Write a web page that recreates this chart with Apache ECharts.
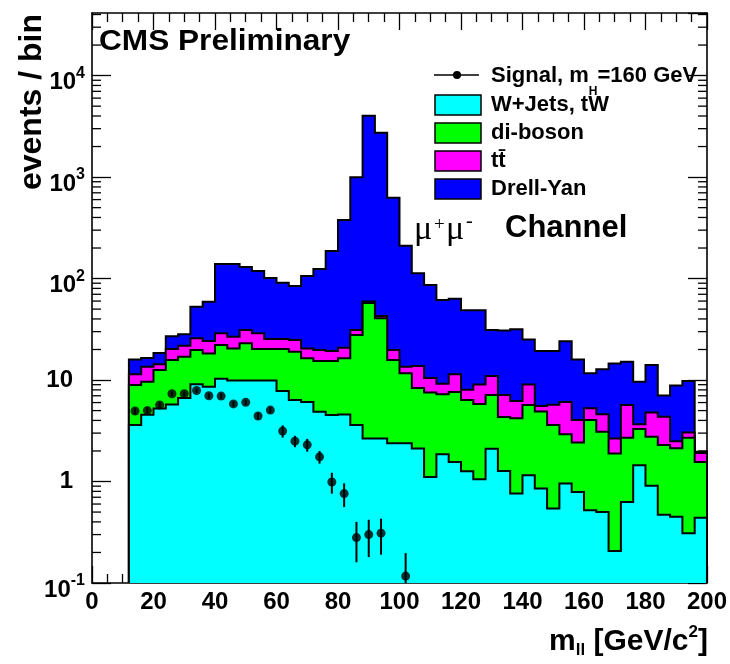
<!DOCTYPE html>
<html>
<head>
<meta charset="utf-8">
<script src="https://cdn.jsdelivr.net/npm/echarts@6.0.0/dist/echarts.min.js"></script>
<style>
html,body{margin:0;padding:0;background:#fff;}
#chart{width:730px;height:664px;}
</style>
</head>
<body>
<div id="chart"></div>
<script>
// ---------------- data ----------------
const binEdges = [12,16,20,24,28,32,36,40,44,48,52,56,60,64,68,72,76,80,84,88,92,96,100,104,108,112,116,120,124,128,132,136,140,144,148,152,156,160,164,168,172,176,180,184,188,192,196,200];

const wjets = [3.60,4.55,5.24,5.74,6.64,9.09,8.59,10.3,9.9,9.9,9.9,9.9,7.79,6.35,6.07,4.87,4.52,4.57,3.60,2.66,2.66,2.38,2.38,2.11,1.105,1.855,1.553,1.259,1.05,2.10,1.267,0.763,1.156,0.855,0.543,0.957,0.79,0.52,0.50,0.207,0.63,1.45,0.91,0.47,0.45,0.31,0.44];
const diboson = [5.33,5.07,7.31,10.01,10.33,10.68,9.71,11.8,10.6,13.1,10.3,10.3,12.41,12.65,10.3,10.53,10.88,11.83,24.2,54.8,37.9,13.37,9.26,6.23,6.42,5.39,6.06,5.09,4.75,5.01,3.05,3.43,4.51,4.04,3.06,1.97,1.63,3.51,2.59,1.68,2.07,1.84,1.85,1.82,1.68,2.39,1.12];
const ttbar = [2.45,3.91,1.73,4.45,4.83,6.03,5.95,6.8,6.2,8.1,8.7,5.2,5.2,5.8,4.13,4.4,3.9,4.4,3.3,2.0,2.2,4.02,1.89,5.41,2.93,1.93,3.79,1.67,3.23,3.84,2.79,2.04,3.36,0.65,2.11,3.14,1.61,1.23,1.50,0.77,2.97,0.37,2.04,2.06,0.37,0.35,0.345];
const drellYan = [4.55,2.95,4.18,6.78,6.4,27.0,35.0,110.4,112.6,98.9,90.0,76.0,65.7,59.7,85.6,104.5,167.7,357,966,3960,2687,607,197.5,99,76,52.3,52,40.7,39.7,20.15,23.7,25.4,16.1,13.8,13.6,18.0,11.9,6.4,8.16,11.9,9.5,5.96,9.26,2.68,6.33,6.73,0.055];

const signalMass = [14,18,22,26,30,34,38,42,46,50,54,58,62,66,70,74,78,82,86,90,94,102];
const signalValues = [4.95,5.0,5.67,7.33,7.33,7.88,7.0,6.95,5.82,6.03,4.42,5.06,3.14,2.50,2.30,1.75,0.99,0.76,0.28,0.30,0.31,0.117];
const signalErrors = [0.35,0.35,0.35,0.4,0.4,0.4,0.4,0.4,0.35,0.35,0.35,0.35,0.43,0.32,0.33,0.25,0.23,0.2,0.12,0.12,0.12,0.08];

const yTickValues = [0.1, 1, 10, 100, 1000, 10000];
const yTickTexts = ['10^-1', '1', '10', '10^2', '10^3', '10^4'];

const legendNames = ['W+Jets, tW', 'di-boson', 'tt\u0304', 'Drell-Yan'];

// ---------------- helpers ----------------
const FONT = '"Liberation Sans", Arial, Helvetica, sans-serif';
const SERIF = '"Liberation Serif", "DejaVu Serif", serif';
const Y_MIN = 0.1, Y_MAX = 41400;
const X_MIN = 0, X_MAX = 200;

function cumulate(layers) {
  return layers[0].map((_, i) => layers.reduce((s, a) => s + a[i], 0));
}
const cumW = cumulate([wjets]);
const cumD = cumulate([wjets, diboson]);
const cumT = cumulate([wjets, diboson, ttbar]);
const cumY = cumulate([wjets, diboson, ttbar, drellYan]);

function histSeries(name, cum, color, z) {
  return {
    type: 'custom', name: name, z: z, silent: true,
    xAxisIndex: 0, yAxisIndex: 0,
    data: cum.map((v, i) => [binEdges[i], v]),
    renderItem: function (params, api) {
      if (params.dataIndex !== 0) return;
      const pts = [api.coord([binEdges[0], Y_MIN])];
      for (let i = 0; i < cum.length; i++) {
        pts.push(api.coord([binEdges[i], cum[i]]));
        pts.push(api.coord([binEdges[i + 1], cum[i]]));
      }
      pts.push(api.coord([binEdges[cum.length], Y_MIN]));
      return {
        type: 'group',
        children: [
          { type: 'polygon', shape: { points: pts }, style: { fill: color, stroke: null } },
          { type: 'polyline', shape: { points: pts }, style: { fill: null, stroke: '#000', lineWidth: 2 } }
        ]
      };
    }
  };
}

const minorTickValues = [];
for (let e = -1; e <= 4; e++) {
  for (let k = 2; k <= 9; k++) {
    const v = k * Math.pow(10, e);
    if (v < Y_MAX) minorTickValues.push(v);
  }
}

function yLabel(v) {
  const idx = yTickValues.findIndex(t => Math.abs(Math.log10(t) - Math.log10(v)) < 1e-6);
  if (idx < 0) return '';
  const t = yTickTexts[idx];
  if (t.indexOf('^') >= 0) {
    const parts = t.split('^');
    return '{b|' + parts[0] + '}{s|' + parts[1] + '}';
  }
  return '{p|' + t + '}';
}

const axisLineStyle = { color: '#000', width: 1.6 };
const tickStyle = { color: '#000', width: 1.3 };

function xAxisDef(position, showLabel) {
  return {
    type: 'value', position: position, min: X_MIN, max: X_MAX, interval: 20,
    axisLine: { show: true, onZero: false, lineStyle: axisLineStyle },
    axisTick: { show: true, inside: true, length: 17, lineStyle: tickStyle },
    minorTick: { show: true, splitNumber: 4, length: 9, lineStyle: tickStyle },
    splitLine: { show: false }, minorSplitLine: { show: false },
    axisLabel: {
      show: showLabel, margin: 7, color: '#000',
      fontFamily: FONT, fontWeight: 'bold', fontSize: 24
    }
  };
}
function yAxisDef(position, showLabel) {
  return {
    type: 'log', logBase: 10, position: position, min: Y_MIN, max: Y_MAX,
    axisLine: { show: true, onZero: false, lineStyle: axisLineStyle },
    axisTick: { show: true, inside: true, length: 19, lineStyle: tickStyle },
    minorTick: { show: false },
    splitLine: { show: false }, minorSplitLine: { show: false },
    axisLabel: {
      show: showLabel, margin: 7, color: '#000', showMaxLabel: false,
      formatter: yLabel,
      rich: {
        b: { fontFamily: FONT, fontWeight: 'bold', fontSize: 24, lineHeight: 24, color: '#000', padding: [14, 0, 0, 0] },
        s: { fontFamily: FONT, fontWeight: 'bold', fontSize: 16, lineHeight: 16, color: '#000', padding: [0, 0, 4, 0] },
        p: { fontFamily: FONT, fontWeight: 'bold', fontSize: 24, lineHeight: 24, color: '#000', padding: [0, 12, 0, 0] }
      }
    }
  };
}

function txt(x, y, text, font, opts) {
  opts = opts || {};
  return {
    type: 'text', x: x, y: y, rotation: opts.rotation || 0, scaleX: opts.scaleX || 1, z: 100,
    style: Object.assign({
      text: text, font: font, fill: '#000',
      align: opts.align || 'left', textAlign: opts.align || 'left',
      verticalAlign: 'middle', textVerticalAlign: 'middle'
    }, opts.style || {})
  };
}

const legendColors = ['#00FFFF', '#00FF00', '#FF00FF', '#0000FF'];
const legendRowsY = [105, 133, 161, 189];

const graphics = [];
// CMS Preliminary
graphics.push(txt(99, 42, 'CMS Preliminary', 'bold 29px ' + FONT, { scaleX: 1.09 }));
// y title
graphics.push(txt(32, 14, 'events / bin', 'bold 32px ' + FONT, { rotation: Math.PI / 2, align: 'right' }));
// x title
graphics.push({
  type: 'text', x: 708, y: 642, z: 100,
  style: {
    text: '{a|m}{s|ll}{a| [GeV/c}{p|2}{a|]}',
    align: 'right', textAlign: 'right', verticalAlign: 'middle', textVerticalAlign: 'middle',
    rich: {
      a: { fontFamily: FONT, fontWeight: 'bold', fontSize: 30, lineHeight: 30, fill: '#000', color: '#000' },
      s: { fontFamily: FONT, fontWeight: 'bold', fontSize: 17, lineHeight: 17, padding: [16, 0, 0, 0], fill: '#000', color: '#000' },
      p: { fontFamily: FONT, fontWeight: 'bold', fontSize: 17, lineHeight: 17, padding: [0, 0, 20, 0], fill: '#000', color: '#000' }
    }
  }
});
// legend: signal
graphics.push({ type: 'line', z: 100, shape: { x1: 434, y1: 75, x2: 479, y2: 75 }, style: { stroke: '#000', lineWidth: 1.5 } });
graphics.push({ type: 'circle', z: 101, shape: { cx: 457, cy: 75, r: 4 }, style: { fill: '#000' } });
graphics.push({
  type: 'text', x: 491, y: 76, z: 100,
  style: {
    text: '{a|Signal, m}{h|H}{a|=160 GeV}',
    align: 'left', textAlign: 'left', verticalAlign: 'middle', textVerticalAlign: 'middle',
    rich: {
      a: { fontFamily: FONT, fontWeight: 'bold', fontSize: 22, lineHeight: 22, fill: '#000', color: '#000' },
      h: { fontFamily: FONT, fontWeight: 'bold', fontSize: 12, lineHeight: 12, padding: [31, 0, 0, 0], fill: '#000', color: '#000' }
    }
  }
});
// legend: boxes
for (let i = 0; i < legendNames.length; i++) {
  graphics.push({
    type: 'rect', z: 100,
    shape: { x: 435, y: legendRowsY[i] - 10, width: 46, height: 20 },
    style: { fill: legendColors[i], stroke: '#000', lineWidth: 1.5 }
  });
  graphics.push(txt(491, legendRowsY[i], legendNames[i], 'bold 22px ' + FONT));
}
// channel label
graphics.push(txt(414, 230, '\u03bc', '34px ' + SERIF));
graphics.push(txt(434, 225, '+', '19px ' + SERIF));
graphics.push(txt(446, 230, '\u03bc', '34px ' + SERIF));
graphics.push(txt(466, 222, '-', '20px ' + SERIF));
graphics.push(txt(505, 228, 'Channel', 'bold 31px ' + FONT));

const chart = echarts.init(document.getElementById('chart'), null, { renderer: 'canvas', width: 730, height: 664 });

chart.setOption({
  animation: false,
  backgroundColor: '#fff',
  grid: { left: 92, top: 13, width: 616, height: 570, containLabel: false },
  xAxis: [xAxisDef('bottom', true), xAxisDef('top', false)],
  yAxis: [yAxisDef('left', true), yAxisDef('right', false)],
  graphic: { elements: graphics },
  series: [
    {
      type: 'custom', name: 'minorTicks', z: 1, silent: true,
      xAxisIndex: 0, yAxisIndex: 0,
      data: minorTickValues.map(v => [X_MIN, v]),
      renderItem: function (params, api) {
        const v = api.value(1);
        const L = api.coord([X_MIN, v]);
        const R = api.coord([X_MAX, v]);
        return {
          type: 'group', children: [
            { type: 'line', shape: { x1: L[0], y1: L[1], x2: L[0] + 9, y2: L[1] }, style: { stroke: '#000', lineWidth: 1.3 } },
            { type: 'line', shape: { x1: R[0] - 9, y1: R[1], x2: R[0], y2: R[1] }, style: { stroke: '#000', lineWidth: 1.3 } }
          ]
        };
      }
    },
    histSeries('Drell-Yan', cumY, '#0000FF', 2),
    histSeries('ttbar', cumT, '#FF00FF', 3),
    histSeries('di-boson', cumD, '#00FF00', 4),
    histSeries('W+Jets, tW', cumW, '#00FFFF', 5),
    {
      type: 'custom', name: 'signalErrors', z: 9, silent: true,
      xAxisIndex: 0, yAxisIndex: 0,
      data: signalMass.map((m, i) => [m, signalValues[i], signalErrors[i]]),
      renderItem: function (params, api) {
        const x = api.value(0), v = api.value(1), e = api.value(2);
        const top = api.coord([x, v + e]);
        const bot = api.coord([x, Math.max(v - e, Y_MIN)]);
        return { type: 'line', shape: { x1: top[0], y1: top[1], x2: bot[0], y2: bot[1] }, style: { stroke: '#000', lineWidth: 2 } };
      }
    },
    {
      type: 'scatter', name: 'Signal, mH=160 GeV', z: 10,
      xAxisIndex: 0, yAxisIndex: 0,
      symbol: 'circle', symbolSize: 9,
      itemStyle: { color: '#000' },
      data: signalMass.map((m, i) => [m, signalValues[i]])
    }
  ]
});
</script>
</body>
</html>
